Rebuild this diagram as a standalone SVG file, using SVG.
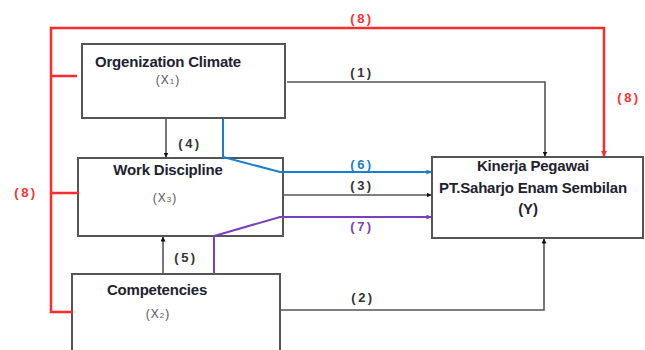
<svg xmlns="http://www.w3.org/2000/svg" width="645" height="350" viewBox="0 0 645 350">
<style>
.box{fill:#fff;stroke:#555;stroke-width:2}
.t{font-family:"Liberation Sans",Arial,sans-serif;font-weight:bold;font-size:15px;fill:#1e2230;text-anchor:middle;letter-spacing:-0.2px}
.s{font-family:"Liberation Sans",Arial,sans-serif;font-size:12px;fill:#555;text-anchor:middle;letter-spacing:1px}
.lb{font-family:"Liberation Sans",Arial,sans-serif;font-weight:bold;font-size:13px;text-anchor:middle;letter-spacing:2.5px}
.k{fill:none;stroke:#555;stroke-width:1.6}
.r{fill:none;stroke:#ff2a2a;stroke-width:2.5}
.b{fill:none;stroke:#1a7fd0;stroke-width:2}
.p{fill:none;stroke:#7a3fc0;stroke-width:2}
</style>
<defs>
<marker id="ak" viewBox="0 0 10 10" refX="9" refY="5" markerWidth="5" markerHeight="5" orient="auto" markerUnits="userSpaceOnUse"><path d="M0,0L10,5L0,10z" fill="#111"/></marker>
<marker id="ar" viewBox="0 0 10 10" refX="9" refY="5" markerWidth="6" markerHeight="6" orient="auto" markerUnits="userSpaceOnUse"><path d="M0,0L10,5L0,10z" fill="#ff2a2a"/></marker>
<marker id="ab" viewBox="0 0 10 10" refX="9" refY="5" markerWidth="6" markerHeight="5" orient="auto" markerUnits="userSpaceOnUse"><path d="M0,0L10,5L0,10z" fill="#1a7fd0"/></marker>
<marker id="ap" viewBox="0 0 10 10" refX="9" refY="5" markerWidth="6" markerHeight="5" orient="auto" markerUnits="userSpaceOnUse"><path d="M0,0L10,5L0,10z" fill="#7a3fc0"/></marker>
</defs>
<g id="orgClimate">
<rect class="box" x="82" y="44" width="203" height="74"/>
<text class="t" x="168" y="67">Orgenization Climate</text>
<text class="s" x="168" y="84">(X<tspan font-size="8">1</tspan>)</text>
</g>
<g id="workDiscipline">
<rect class="box" x="78" y="158" width="205" height="78"/>
<text class="t" x="168" y="175">Work Discipline</text>
<text class="s" x="165" y="202">(X<tspan font-size="8">3</tspan>)</text>
</g>
<g id="competencies">
<rect class="box" x="72" y="274" width="208" height="82"/>
<text class="t" x="157" y="295">Competencies</text>
<text class="s" x="158" y="318">(X<tspan font-size="8">2</tspan>)</text>
</g>
<g id="kinerja">
<rect class="box" x="432" y="157" width="211" height="81"/>
<text class="t" x="533" y="171">Kinerja Pegawai</text>
<text class="t" x="533" y="193">PT.Saharjo Enam Sembilan</text>
<text class="t" x="528" y="214">(Y)</text>
</g>
<g id="connectors">
<path class="r" d="M73,312H51V28H604V156" marker-end="url(#ar)"/>
<path class="r" d="M51,76H77M51,193H79"/>
<path class="k" d="M287,82H545V156" marker-end="url(#ak)"/>
<path class="k" d="M166,119V157" marker-end="url(#ak)"/>
<path class="k" d="M163,274V237" marker-end="url(#ak)"/>
<path class="k" d="M284,195H431" marker-end="url(#ak)"/>
<path class="k" d="M281,310H544V239" marker-end="url(#ak)"/>
<path class="b" d="M223,119V157L280,172H431" marker-end="url(#ab)"/>
<path class="p" d="M214,274V236L280,217H431" marker-end="url(#ap)"/>
<text class="lb" x="362" y="23" fill="#ff3030">(8)</text>
<text class="lb" x="629" y="102" fill="#ff3030">(8)</text>
<text class="lb" x="26" y="197" fill="#ff3030">(8)</text>
<text class="lb" x="362" y="77" fill="#333">(1)</text>
<text class="lb" x="190" y="148" fill="#333">(4)</text>
<text class="lb" x="362" y="169" fill="#1a7fd0">(6)</text>
<text class="lb" x="362" y="190" fill="#333">(3)</text>
<text class="lb" x="362" y="231" fill="#7a3fc0">(7)</text>
<text class="lb" x="186" y="262" fill="#333">(5)</text>
<text class="lb" x="363" y="302" fill="#333">(2)</text>
</g>
</svg>
